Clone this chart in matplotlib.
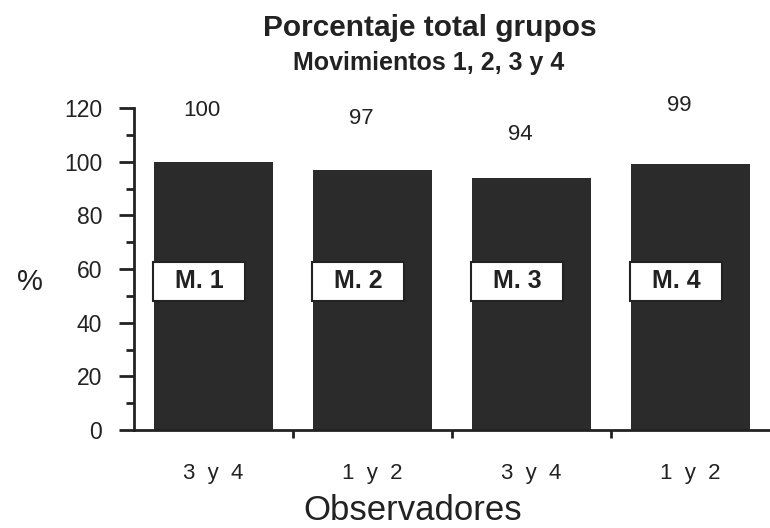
import matplotlib.pyplot as plt
import numpy as np

plt.rcParams['font.family'] = ['Liberation Sans', 'DejaVu Sans']

observers = ["3  y  4", "1  y  2", "3  y  4", "1  y  2"]
movements = ["M. 1", "M. 2", "M. 3", "M. 4"]
percent = [100, 97, 94, 99]

# the printed numbers sit at uneven heights above the bars
label_dy = [19, 19, 16, 22]

fig = plt.figure(figsize=(7.7, 5.28), dpi=100)
ax = fig.add_axes([0.174, 0.1856, 0.826, 0.6098])

x = np.arange(len(percent))
ax.bar(x, percent, width=0.75, color='#2b2b2b')

for i, v in enumerate(percent):
    ax.text(x[i] - 0.07, v + label_dy[i], str(v), ha='center', va='center',
            fontsize=16, color='#222222')
    ax.text(x[i] - 0.09, 55.5, "  " + movements[i] + "  ", ha='center', va='center',
            fontsize=18, fontweight='bold', color='#222222',
            bbox=dict(boxstyle='square,pad=0.3', fc='white', ec='#222222', lw=1.5))

ax.set_xlim(-0.5, 3.5)
ax.set_ylim(0, 120)
ax.set_yticks(range(0, 121, 20))
ax.set_yticks(range(10, 120, 20), minor=True)
ax.set_xticks(x)
ax.set_xticklabels(observers)
ax.set_xticks([0.5, 1.5, 2.5], minor=True)

ax.tick_params(axis='y', which='major', length=11, width=2, labelsize=16.5,
               pad=12, colors='#222222')
ax.tick_params(axis='y', which='minor', length=6, width=2, colors='#222222')
ax.tick_params(axis='x', which='major', length=0, labelsize=16, pad=24,
               colors='#222222')
ax.tick_params(axis='x', which='minor', length=6, width=2, colors='#222222')

for s in ['top', 'right']:
    ax.spines[s].set_visible(False)
for s in ['left', 'bottom']:
    ax.spines[s].set_linewidth(2)
    ax.spines[s].set_color('#222222')

fig.text(0.558, 0.947, "Porcentaje total grupos", ha='center', va='center',
         fontsize=21.5, fontweight='bold', color='#222222')
fig.text(0.557, 0.881, "Movimientos 1, 2, 3 y 4", ha='center', va='center',
         fontsize=18, fontweight='bold', color='#222222')
fig.text(0.039, 0.465, "%", ha='center', va='center', fontsize=21, color='#222222')
fig.text(0.536, 0.034, "Observadores", ha='center', va='center', fontsize=25,
         color='#222222')

plt.savefig('out.png', dpi=100)
plt.close()
